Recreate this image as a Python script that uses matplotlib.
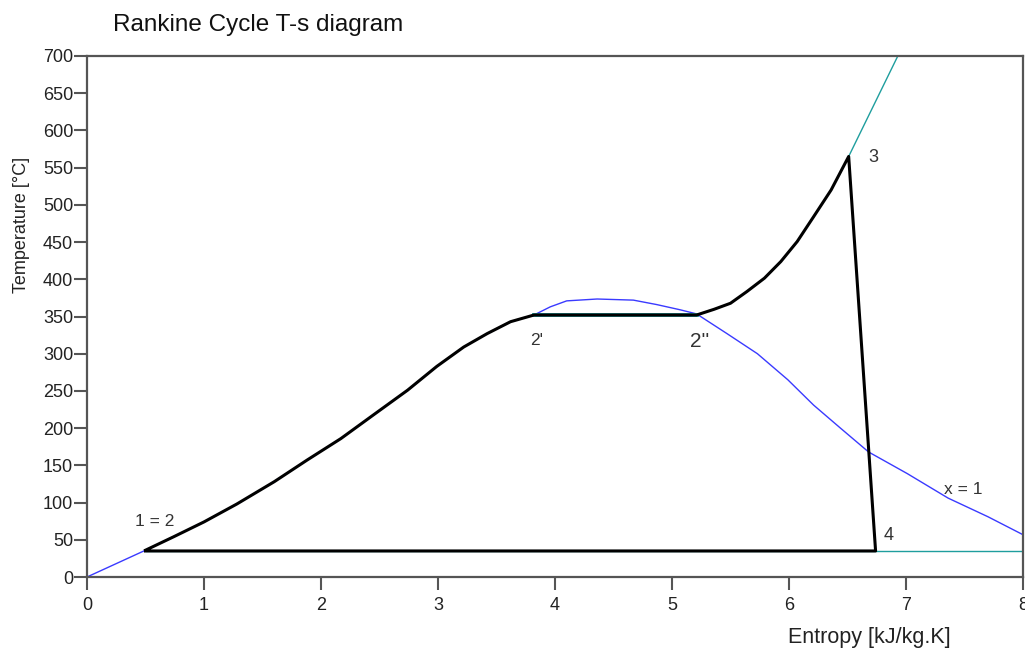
import matplotlib
matplotlib.use("Agg")
import matplotlib.pyplot as plt

plt.rcParams['font.family'] = ['Liberation Sans', 'DejaVu Sans']

# saturated liquid line (x = 0)
liq_s = [0.0, 0.5, 0.74, 1.0, 1.28, 1.6, 1.88, 2.17, 2.45, 2.74, 2.99, 3.22, 3.42, 3.62, 3.82]
liq_T = [0, 36, 54, 74, 98, 128, 157, 186, 218, 251, 283, 309, 327, 343, 352]

# top of the dome and saturated vapour line (x = 1)
vap_s = [3.82, 3.96, 4.1, 4.36, 4.67, 4.87, 5.07, 5.21, 5.47, 5.73, 5.99, 6.21, 6.44,
         6.68, 7.01, 7.36, 7.7, 8.01]
vap_T = [352, 363, 371, 373.5, 372, 366, 359, 353.5, 327, 300, 265, 231, 200,
         168, 139, 106, 81, 56]

# high pressure isobar in the superheated region
hp_s = [5.21, 5.36, 5.5, 5.64, 5.79, 5.93, 6.07, 6.21, 6.36, 6.51, 6.93]
hp_T = [352, 359.7, 367.8, 383.5, 401.5, 423.8, 450.7, 484, 520, 565, 700]

T_low = 35
s1 = 0.5
s4 = 6.74

# cycle: 1=2 -> 2' -> 2'' -> 3 -> 4 -> 1
cycle_s = liq_s[1:] + hp_s[:10] + [s4, s1]
cycle_T = liq_T[1:] + hp_T[:10] + [T_low, T_low]

fig = plt.figure(figsize=(10.25, 6.5), dpi=100)
ax = fig.add_axes([87/1025, 1-577/650, 936/1025, 521/650])

teal = '#1f9e9e'
blue = '#3a3aff'
ax.plot(liq_s, liq_T, color=blue, lw=1.0, zorder=2)
ax.plot(vap_s, vap_T, color=blue, lw=1.0, zorder=2)
ax.plot(hp_s, hp_T, color=teal, lw=1.0, zorder=2)
ax.plot([liq_s[-1], hp_s[0]], [352, 352], color=teal, lw=2.8, zorder=2)
ax.plot([s1, 8.0], [T_low, T_low], color=teal, lw=1.0, zorder=2)
ax.plot(cycle_s, cycle_T, color='black', lw=2.2, zorder=3,
        solid_joinstyle='round')

txt = '#333333'
ax.text(0.58, 75, '1 = 2', fontsize=12.5, color=txt, ha='center', va='center')
ax.text(3.84, 318, "2'", fontsize=12.5, color=txt, ha='center', va='center')
ax.text(5.24, 316, "2''", fontsize=15, color=txt, ha='center', va='center')
ax.text(6.72, 563, '3', fontsize=13, color=txt, ha='center', va='center')
ax.text(6.85, 56, '4', fontsize=13, color=txt, ha='center', va='center')
ax.text(7.49, 117, 'x = 1', fontsize=12.5, color=txt, ha='center', va='center')

ax.set_xlim(0, 8)
ax.set_ylim(0, 700)
ax.set_xticks(range(0, 9))
ax.set_yticks(range(0, 701, 50))
ax.tick_params(direction='out', length=9.5, width=1.5, colors='#555555',
               labelcolor='#222222', labelsize=13)
ax.tick_params(axis='x', pad=5)
ax.tick_params(axis='y', pad=0.5)
for sp in ax.spines.values():
    sp.set_color('#555555')
    sp.set_linewidth(1.6)

fig.text(113/1025, 1-25/650, 'Rankine Cycle T-s diagram', fontsize=17.5,
         color='#111111', ha='left', va='center')
fig.text(22/1025, 1-225/650, 'Temperature [°C]', fontsize=13, color='#222222',
         rotation=90, ha='center', va='center')
fig.text(869/1025, 1-637/650, 'Entropy [kJ/kg.K]', fontsize=15.5, color='#222222',
         ha='center', va='center')

fig.savefig('out.png', dpi=100)
